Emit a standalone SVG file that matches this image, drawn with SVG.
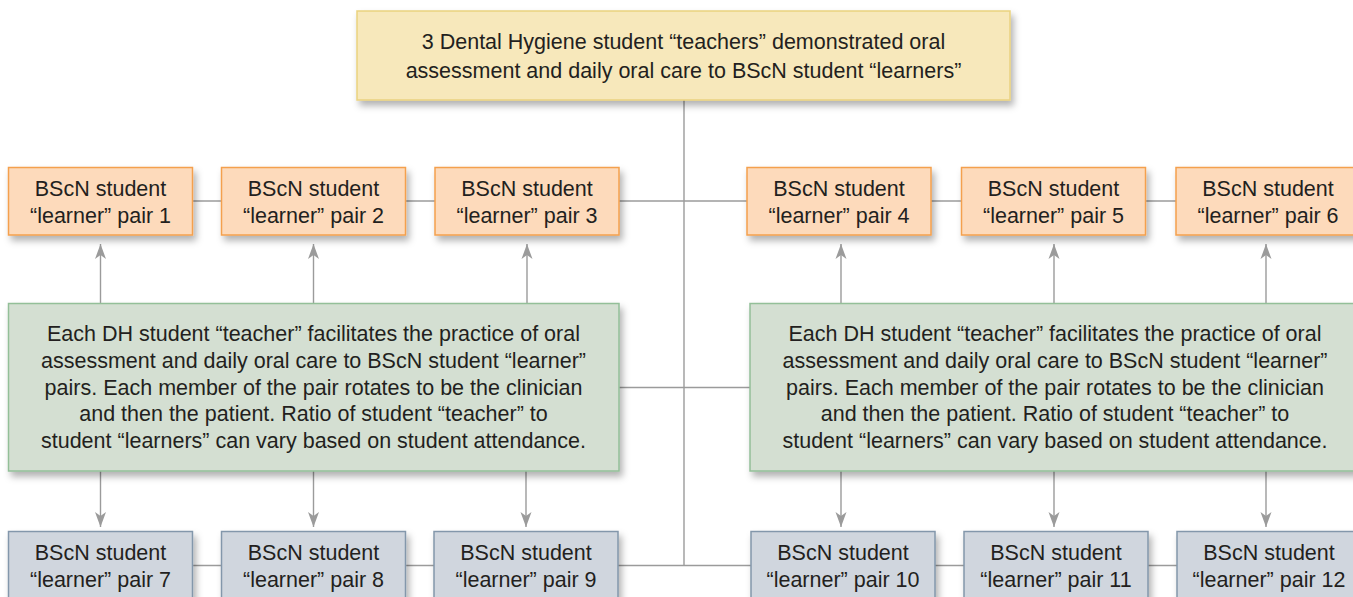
<svg xmlns="http://www.w3.org/2000/svg" width="1353" height="597" viewBox="0 0 1353 597">
<defs>
<style>
text{font-family:"Liberation Sans",Arial,sans-serif;font-size:21.5px;fill:#231f20;text-anchor:middle}
.conn{stroke:#9b9b9b;stroke-width:1.4;fill:none}
.top{fill:#f7e8bb;stroke:#ead27f;stroke-width:1.5}
.org{fill:#fddabb;stroke:#f4a04d;stroke-width:1.5}
.grn{fill:#d4dfd2;stroke:#93bf98;stroke-width:1.5}
.blu{fill:#d0d6de;stroke:#8397ab;stroke-width:1.5}
</style>
<filter id="sh" x="-10%" y="-20%" width="130%" height="160%">
<feDropShadow dx="3" dy="5" stdDeviation="3.5" flood-color="#000" flood-opacity="0.3"/>
</filter>
<marker id="ah" markerUnits="userSpaceOnUse" markerWidth="16" markerHeight="12" refX="15" refY="6" orient="auto">
<path d="M0,0.5 L15,6 L0,11.5 L4,6 z" fill="#9b9b9b"/>
</marker>
</defs>
<rect width="1353" height="597" fill="#fff"/>
<g id="connectors">
<line class="conn" x1="684" y1="100" x2="684" y2="565.5"/>
<line class="conn" x1="192" y1="201" x2="1176" y2="201"/>
<line class="conn" x1="619" y1="387.5" x2="750" y2="387.5"/>
<line class="conn" x1="192" y1="565.5" x2="1177" y2="565.5"/>
<line class="conn" x1="100.5" y1="303.5" x2="100.5" y2="244" marker-end="url(#ah)"/>
<line class="conn" x1="313.5" y1="303.5" x2="313.5" y2="244" marker-end="url(#ah)"/>
<line class="conn" x1="527" y1="303.5" x2="527" y2="244" marker-end="url(#ah)"/>
<line class="conn" x1="841" y1="303.5" x2="841" y2="244" marker-end="url(#ah)"/>
<line class="conn" x1="1054" y1="303.5" x2="1054" y2="244" marker-end="url(#ah)"/>
<line class="conn" x1="1266" y1="303.5" x2="1266" y2="244" marker-end="url(#ah)"/>
<line class="conn" x1="100.5" y1="471" x2="100.5" y2="527" marker-end="url(#ah)"/>
<line class="conn" x1="313.5" y1="471" x2="313.5" y2="527" marker-end="url(#ah)"/>
<line class="conn" x1="526" y1="471" x2="526" y2="527" marker-end="url(#ah)"/>
<line class="conn" x1="841" y1="471" x2="841" y2="527" marker-end="url(#ah)"/>
<line class="conn" x1="1054" y1="471" x2="1054" y2="527" marker-end="url(#ah)"/>
<line class="conn" x1="1266" y1="471" x2="1266" y2="527" marker-end="url(#ah)"/>
</g>
<g id="top">
<rect class="top" x="357" y="11" width="653" height="89" filter="url(#sh)"/>
<text x="683.5" y="49">3 Dental Hygiene student “teachers” demonstrated oral</text>
<text x="683.5" y="78">assessment and daily oral care to BScN student “learners”</text>
</g>
<g id="pair1"><rect class="org" x="8.5" y="167.5" width="184" height="67.5" filter="url(#sh)"/><text x="100.5" y="196">BScN student</text><text x="100.5" y="223">“learner” pair 1</text></g>
<g id="pair2"><rect class="org" x="221.5" y="167.5" width="184" height="67.5" filter="url(#sh)"/><text x="313.5" y="196">BScN student</text><text x="313.5" y="223">“learner” pair 2</text></g>
<g id="pair3"><rect class="org" x="435" y="167.5" width="184" height="67.5" filter="url(#sh)"/><text x="527" y="196">BScN student</text><text x="527" y="223">“learner” pair 3</text></g>
<g id="pair4"><rect class="org" x="747" y="167.5" width="184" height="67.5" filter="url(#sh)"/><text x="839" y="196">BScN student</text><text x="839" y="223">“learner” pair 4</text></g>
<g id="pair5"><rect class="org" x="961.5" y="167.5" width="184" height="67.5" filter="url(#sh)"/><text x="1053.5" y="196">BScN student</text><text x="1053.5" y="223">“learner” pair 5</text></g>
<g id="pair6"><rect class="org" x="1176" y="167.5" width="184" height="67.5" filter="url(#sh)"/><text x="1268" y="196">BScN student</text><text x="1268" y="223">“learner” pair 6</text></g>
<g id="facilitate-left">
<rect class="grn" x="8.5" y="303.5" width="610.5" height="167.5" filter="url(#sh)"/>
<text x="313.5" y="341">Each DH student “teacher” facilitates the practice of oral</text>
<text x="313.5" y="368">assessment and daily oral care to BScN student “learner”</text>
<text x="313.5" y="395">pairs. Each member of the pair rotates to be the clinician</text>
<text x="313.5" y="421">and then the patient. Ratio of student “teacher” to</text>
<text x="313.5" y="448">student “learners” can vary based on student attendance.</text>
</g>
<g id="facilitate-right">
<rect class="grn" x="750" y="303.5" width="610.5" height="167.5" filter="url(#sh)"/>
<text x="1055" y="341">Each DH student “teacher” facilitates the practice of oral</text>
<text x="1055" y="368">assessment and daily oral care to BScN student “learner”</text>
<text x="1055" y="395">pairs. Each member of the pair rotates to be the clinician</text>
<text x="1055" y="421">and then the patient. Ratio of student “teacher” to</text>
<text x="1055" y="448">student “learners” can vary based on student attendance.</text>
</g>
<g id="pair7"><rect class="blu" x="8.5" y="531.5" width="184" height="80" filter="url(#sh)"/><text x="100.5" y="560">BScN student</text><text x="100.5" y="587">“learner” pair 7</text></g>
<g id="pair8"><rect class="blu" x="221.5" y="531.5" width="184" height="80" filter="url(#sh)"/><text x="313.5" y="560">BScN student</text><text x="313.5" y="587">“learner” pair 8</text></g>
<g id="pair9"><rect class="blu" x="434" y="531.5" width="184" height="80" filter="url(#sh)"/><text x="526" y="560">BScN student</text><text x="526" y="587">“learner” pair 9</text></g>
<g id="pair10"><rect class="blu" x="751" y="531.5" width="184" height="80" filter="url(#sh)"/><text x="843" y="560">BScN student</text><text x="843" y="587">“learner” pair 10</text></g>
<g id="pair11"><rect class="blu" x="964" y="531.5" width="184" height="80" filter="url(#sh)"/><text x="1056" y="560">BScN student</text><text x="1056" y="587">“learner” pair 11</text></g>
<g id="pair12"><rect class="blu" x="1177" y="531.5" width="184" height="80" filter="url(#sh)"/><text x="1269" y="560">BScN student</text><text x="1269" y="587">“learner” pair 12</text></g>
</svg>
